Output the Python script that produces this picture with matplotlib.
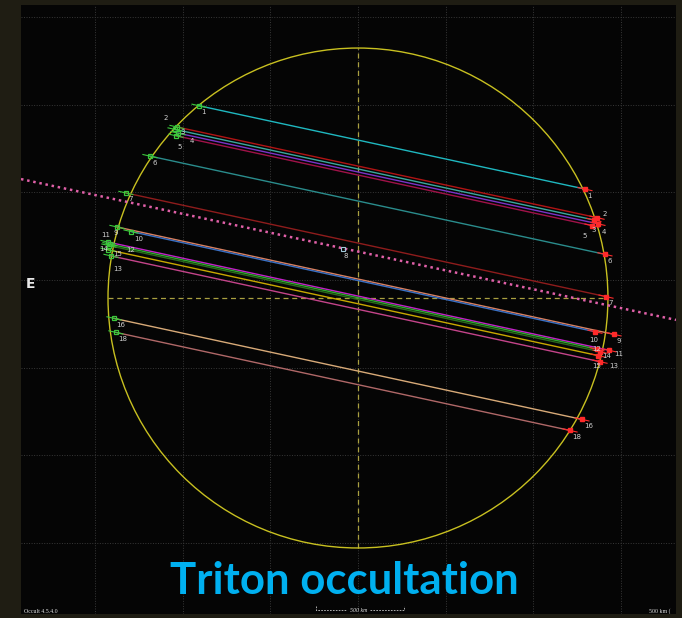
import matplotlib
matplotlib.use("Agg")
import matplotlib.pyplot as plt
from matplotlib.patches import Circle

# ---------------- data (km, sky-plane, centre of Triton at 0,0) ----------------
chord_ids = ["1", "2", "3", "4", "5", "6", "7", "9", "10", "11", "12", "14", "15", "13", "16", "18"]
start_x = [-906, -1032, -1043, -1026, -1038, -1186, -1323, -1374, -1294, -1425, -1414, -1420, -1425, -1408, -1391, -1380]
start_y = [1096, 975, 961, 940, 925, 809, 599, 405, 379, 319, 307, 299, 275, 240, -116, -196]
end_x = [1294, 1363, 1345, 1368, 1334, 1408, 1414, 1459, 1351, 1431, 1363, 1380, 1368, 1380, 1277, 1209]
end_y = [621, 458, 445, 423, 413, 249, 8, -207, -192, -298, -292, -306, -328, -363, -692, -755]
chord_colors = ["#1fb8c0", "#b01414", "#3aa89c", "#7a34c8", "#a01248", "#2a8c8c", "#8e1c1c",
                "#d88060", "#3a70c4", "#c222c8", "#2ea82e", "#2a6a1a", "#c8a800", "#c4448a",
                "#d8aa78", "#b06868"]

centre_line_x = [-1921, 1813]
centre_line_y = [678, -125]

miss_label = "8"
miss_x, miss_y = -86, 262

triton_radius = 1425
grid_x = [-1500, -1000, -500, 0, 500, 1000, 1500]
grid_y = [-1397, -897, -397, 103, 603, 1103, 1603]

title = "Triton occultation"

# label offsets (style only, km)
left_off = {"1": (12, -20), "2": (-75, 70), "3": (30, 0), "4": (65, -25), "5": (10, -45),
            "6": (12, -20), "7": (12, -20), "9": (-20, -15), "10": (20, -25),
            "11": (-40, 55), "12": (95, -15), "14": (-55, -5), "15": (30, -5), "13": (15, -55),
            "16": (12, -20), "18": (12, -20)}
right_off = {"1": (12, -20), "2": (30, 40), "3": (-15, -40), "4": (20, -30), "5": (-55, -45),
             "6": (12, -20), "7": (12, -20), "9": (12, -20), "10": (-30, -30),
             "11": (30, -5), "12": (-30, 20), "14": (10, -5), "15": (-30, -45), "13": (50, -5),
             "16": (12, -20), "18": (12, -20)}

# ---------------- figure ----------------
fig = plt.figure(figsize=(6.82, 6.18), dpi=100, facecolor="#1f1d13")
ax = fig.add_axes([21 / 682, 4 / 618, 655 / 682, 609 / 618])
ax.set_facecolor("#050505")
ax.set_xlim(-1921, 1813)
ax.set_ylim(-1801, 1670)
ax.set_aspect("equal", adjustable="box")
ax.set_xticks([])
ax.set_yticks([])
for sp in ax.spines.values():
    sp.set_visible(False)

# grid
for gx in grid_x:
    ax.axvline(gx, color="#383838", lw=0.7, ls=(0, (1, 1.6)), zorder=1)
for gy in grid_y:
    ax.axhline(gy, color="#383838", lw=0.7, ls=(0, (1, 1.6)), zorder=1)

# Triton limb
ax.add_patch(Circle((0, 0), triton_radius, fill=False, ec="#c8c020", lw=1.0, zorder=3))

# crosshair
ax.plot([0, 0], [-triton_radius, triton_radius], color="#aaa040", lw=0.9, ls=(0, (4, 3)), zorder=2)
ax.plot([-triton_radius, triton_radius], [0, 0], color="#aaa040", lw=0.9, ls=(0, (4, 3)), zorder=2)

# central line
ax.plot(centre_line_x, centre_line_y, color="#e060a8", lw=1.8, ls=(0, (1, 1.5)), zorder=4)

# chords
for cid, x1, y1, x2, y2, c in zip(chord_ids, start_x, start_y, end_x, end_y, chord_colors):
    ax.plot([x1, x2], [y1, y2], color=c, lw=1.0, zorder=5)
    ax.plot([x1], [y1], marker="s", ms=3, mfc="none", mec="#3cc83c", mew=0.9, zorder=6)
    ax.plot([x1 - 40, x1 + 40], [y1 + 9, y1 - 9], color="#3cc83c", lw=0.8, zorder=6)
    ax.plot([x2], [y2], marker="s", ms=3, mfc="#ff2a2a", mec="#ff2a2a", zorder=6)
    ax.plot([x2 - 40, x2 + 40], [y2 + 9, y2 - 9], color="#ff2a2a", lw=0.8, zorder=6)
    ldx, ldy = left_off[cid]
    rdx, rdy = right_off[cid]
    ax.text(x1 + ldx, y1 + ldy, cid, color="#d0d0d0", fontsize=5, ha="left", va="top",
            family="DejaVu Sans", zorder=7)
    ax.text(x2 + rdx, y2 + rdy, cid, color="#d0d0d0", fontsize=5, ha="left", va="top",
            family="DejaVu Sans", zorder=7)

# miss station
ax.plot([miss_x], [miss_y + 20], marker="s", ms=2.5, mfc="none", mec="#a0c8d8", mew=0.8, zorder=6)
ax.text(miss_x + 6, miss_y - 5, miss_label, color="#d0d0d0", fontsize=5, ha="left", va="top", zorder=7)

# direction label
ax.text(-1893, 80, "E", color="#e8e8e8", fontsize=10, fontweight="bold", ha="left", va="center",
        family="DejaVu Sans")

# title
ax.text(-80, -1690, title, color="#00b0f0", fontsize=31.5, fontweight="bold", ha="center",
        va="baseline", family="Lato", zorder=8)

# footer
ax.text(-1905, -1786, "Occult 4.5.4.0", color="#e0e0e0", fontsize=4.2, ha="left", va="center",
        family="Liberation Serif")
bar_l, bar_r, bar_y = -239, 262, -1779
ax.plot([bar_l, bar_l, -60], [bar_y + 25, bar_y, bar_y], color="#c8c8c8", lw=0.6, ls=(0, (2, 1.5)))
ax.plot([70, bar_r, bar_r], [bar_y, bar_y, bar_y + 25], color="#c8c8c8", lw=0.6, ls=(0, (2, 1.5)))
ax.text(5, bar_y, "500 km", color="#e0e0e0", fontsize=4.2, ha="center", va="center",
        family="Liberation Serif", style="italic")
ax.text(1660, -1786, "500 km (", color="#e0e0e0", fontsize=4.2, ha="left", va="center",
        family="Liberation Serif", clip_on=True)

fig.savefig("out.png", dpi=100, facecolor=fig.get_facecolor())
